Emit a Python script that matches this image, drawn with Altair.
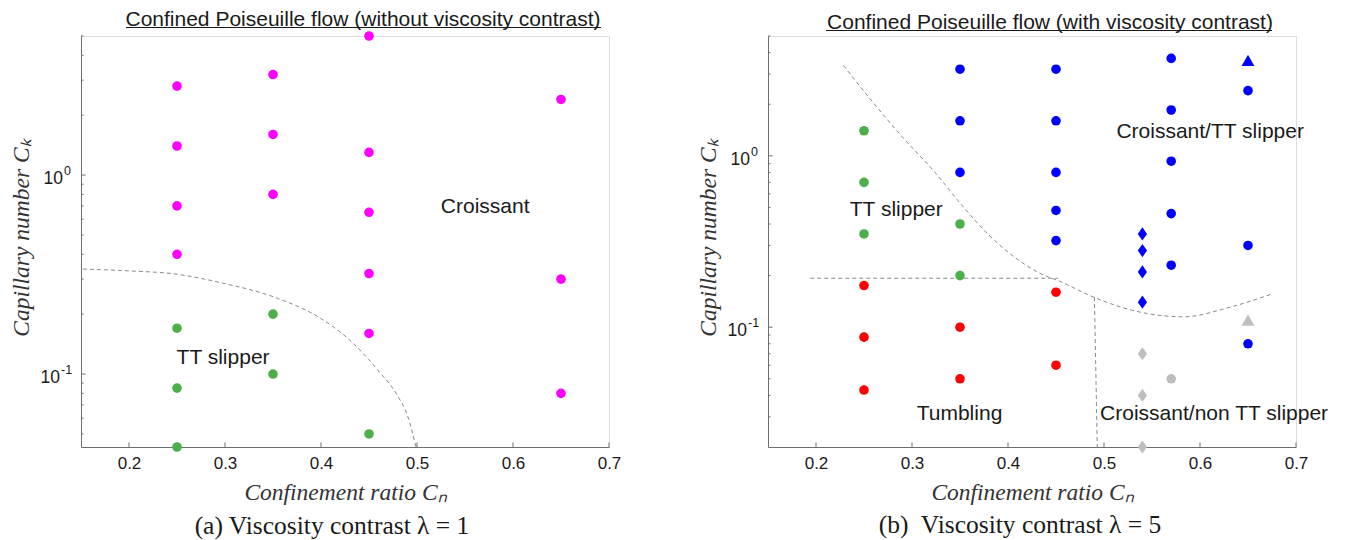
import altair as alt
import pandas as pd

# ---------------- Left panel: viscosity contrast lambda = 1 ----------------
L_CROISSANT_CN = [0.25, 0.25, 0.25, 0.25, 0.35, 0.35, 0.35, 0.45, 0.45, 0.45, 0.45, 0.45, 0.65, 0.65, 0.65]
L_CROISSANT_CK = [2.8, 1.4, 0.7, 0.4, 3.2, 1.6, 0.8, 5.0, 1.3, 0.65, 0.32, 0.16, 2.4, 0.3, 0.08]
L_TT_CN = [0.25, 0.25, 0.25, 0.35, 0.35, 0.45]
L_TT_CK = [0.17, 0.085, 0.043, 0.2, 0.1, 0.05]
L_BOUND_CN = [0.152, 0.20, 0.249, 0.294, 0.356, 0.397, 0.430, 0.459, 0.480, 0.490, 0.499]
L_BOUND_CK = [0.337, 0.330, 0.318, 0.289, 0.239, 0.194, 0.148, 0.105, 0.0774, 0.062, 0.043]
L_LABELS = ["Croissant", "TT slipper"]
L_LABEL_CN = [0.571, 0.298]
L_LABEL_CK = [0.695, 0.121]
L_YDOMAIN = [0.043, 5.0]
L_YMINOR = [0.05, 0.06, 0.07, 0.08, 0.09, 0.2, 0.3, 0.4, 0.5, 0.6, 0.7, 0.8, 0.9, 2, 3, 4, 5]

# ---------------- Right panel: viscosity contrast lambda = 5 ----------------
R_TT_CN = [0.25, 0.25, 0.25, 0.35, 0.35]
R_TT_CK = [1.4, 0.7, 0.35, 0.4, 0.2]
R_TUMB_CN = [0.25, 0.25, 0.25, 0.35, 0.35, 0.45, 0.45]
R_TUMB_CK = [0.175, 0.0875, 0.043, 0.1, 0.05, 0.16, 0.06]
R_CTT_CIRC_CN = [0.35, 0.35, 0.35, 0.45, 0.45, 0.45, 0.45, 0.45, 0.57, 0.57, 0.57, 0.57, 0.57, 0.65, 0.65, 0.65]
R_CTT_CIRC_CK = [3.2, 1.6, 0.8, 3.2, 1.6, 0.8, 0.48, 0.32, 3.7, 1.85, 0.93, 0.46, 0.23, 2.4, 0.3, 0.08]
R_CTT_DIAM_CN = [0.54, 0.54, 0.54, 0.54]
R_CTT_DIAM_CK = [0.35, 0.28, 0.21, 0.14]
R_CTT_TRI_CN = [0.65]
R_CTT_TRI_CK = [3.6]
R_NON_DIAM_CN = [0.54, 0.54, 0.54]
R_NON_DIAM_CK = [0.07, 0.04, 0.02]
R_NON_CIRC_CN = [0.57]
R_NON_CIRC_CK = [0.05]
R_NON_TRI_CN = [0.65]
R_NON_TRI_CK = [0.11]
R_BOUND_CN = [0.2285, 0.2546, 0.2893, 0.324, 0.3518, 0.3796, 0.4073, 0.4351, 0.4542, 0.4888, 0.5333, 0.5825, 0.6316, 0.676]
R_BOUND_CK = [3.37, 2.21, 1.30, 0.80, 0.516, 0.347, 0.255, 0.204, 0.185, 0.150, 0.124, 0.115, 0.131, 0.157]
R_HLINE_CN = [0.194, 0.452]
R_HLINE_CK = [0.193, 0.193]
R_VLINE_CN = [0.490, 0.493]
R_VLINE_CK = [0.150, 0.02]
R_LABELS = ["TT slipper", "Croissant/TT slipper", "Tumbling", "Croissant/non TT slipper"]
R_LABEL_CN = [0.2836, 0.6106, 0.3495, 0.6147]
R_LABEL_CK = [0.483, 1.374, 0.0313, 0.0313]
R_YDOMAIN = [0.02, 5.0]
R_YMINOR = [0.03, 0.04, 0.05, 0.06, 0.07, 0.08, 0.09, 0.2, 0.3, 0.4, 0.5, 0.6, 0.7, 0.8, 0.9, 2, 3, 4, 5]

X_TICKS = [0.2, 0.3, 0.4, 0.5, 0.6, 0.7]
Y_MAJOR = [1.0, 0.1]
Y_MAJOR_BASE = ["10", "10"]
Y_MAJOR_EXP = ["0", "-1"]

TITLES = ["Confined Poiseuille flow (without viscosity contrast)",
          "Confined Poiseuille flow (with viscosity contrast)"]
CAPTIONS = ["(a) Viscosity contrast \u03bb = 1", "(b)\u00a0 Viscosity contrast \u03bb = 5"]

GREEN = "#4DAF4A"
MAGENTA = "#FF00FF"
RED = "#FF0000"
BLUE = "#0000FF"
GRAY = "#BEBEBE"
AXC = "#6e6e6e"
TXT = "#1a1a1a"
DASH = "#8a8a8a"

W, H = 528, 411
SANS = "Liberation Sans"
SERIF = "Liberation Serif"

CIRCLE = "circle"
DIAMOND = "M0,-1L0.7,0L0,1L-0.7,0Z"
TRIANGLE = "M0,-0.88L1,0.88L-1,0.88Z"

# right edge of the "10" part of each y label (pixels left of the axis)
LABEL_BASE_RIGHT = [-18, -21]


def make_panel(series, lines, lab_txt, lab_cn, lab_ck, ydomain, yminor,
               title, title_y, ul_x, ul_y, caption, cap_x, cap_y):
    xs = alt.Scale(domain=[0.15, 0.7], nice=False, zero=False)
    ys = alt.Scale(type="log", domain=ydomain, nice=False)
    xaxis = alt.Axis(values=X_TICKS, format=".1f", ticks=False, grid=False,
                     domainColor=AXC, domainWidth=1, labelFlush=False,
                     labelFont=SANS, labelFontSize=17, labelColor=TXT, labelPadding=8,
                     title="Confinement ratio C\u2099", titleFont=SERIF,
                     titleFontStyle="italic", titleFontWeight="normal",
                     titleFontSize=23.5, titleColor="#333333",
                     titleY=45, titleBaseline="middle")
    yaxis = alt.Axis(values=Y_MAJOR, ticks=False, grid=False, labels=False,
                     domainColor=AXC, domainWidth=1,
                     title="Capillary number C\u2096", titleFont=SERIF,
                     titleFontStyle="italic", titleFontWeight="normal",
                     titleFontSize=23.5, titleColor="#333333",
                     titleX=-60, titleY=H / 2 - 4, titleAngle=270,
                     titleBaseline="middle", titleAlign="center")
    X = alt.X("cn:Q", scale=xs, axis=xaxis)
    Y = alt.Y("ck:Q", scale=ys, axis=yaxis)

    layers = []
    for cn, ck in lines:
        df = pd.DataFrame({"cn": cn, "ck": ck})
        layers.append(alt.Chart(df).mark_line(color=DASH, strokeDash=[4, 3],
                                              strokeWidth=1, interpolate="monotone")
                      .encode(x=X, y=Y))
    for cn, ck, color, shape, size in series:
        df = pd.DataFrame({"cn": cn, "ck": ck})
        layers.append(alt.Chart(df).mark_point(filled=True, shape=shape, size=size,
                                               color=color, opacity=1, strokeWidth=0)
                      .encode(x=X, y=Y))
    # inward ticks
    layers.append(alt.Chart(pd.DataFrame({"cn": X_TICKS})).mark_rule(color=AXC, strokeWidth=1)
                  .encode(x=X, y=alt.value(H), y2=alt.value(H - 4.5)))
    layers.append(alt.Chart(pd.DataFrame({"ck": Y_MAJOR})).mark_rule(color=AXC, strokeWidth=1)
                  .encode(y=Y, x=alt.value(0), x2=alt.value(4.5)))
    layers.append(alt.Chart(pd.DataFrame({"ck": yminor})).mark_rule(color=AXC, strokeWidth=1)
                  .encode(y=Y, x=alt.value(0), x2=alt.value(2.5)))
    # y tick labels with real superscripts
    for v, base, exp, right in zip(Y_MAJOR, Y_MAJOR_BASE, Y_MAJOR_EXP, LABEL_BASE_RIGHT):
        df = pd.DataFrame({"ck": [v], "base": [base], "exp": [exp]})
        layers.append(alt.Chart(df).mark_text(font=SANS, fontSize=17.5, color=TXT,
                                              align="right", baseline="middle", dy=4)
                      .encode(y=Y, x=alt.value(right), text="base:N"))
        layers.append(alt.Chart(df).mark_text(font=SANS, fontSize=12.5, color=TXT,
                                              align="left", baseline="middle", dy=-4)
                      .encode(y=Y, x=alt.value(right + 1), text="exp:N"))
    # region labels
    ldf = pd.DataFrame({"cn": lab_cn, "ck": lab_ck, "txt": lab_txt})
    layers.append(alt.Chart(ldf).mark_text(font=SANS, fontSize=21, color=TXT,
                                           align="center", baseline="middle")
                  .encode(x=X, y=Y, text="txt:N"))
    # underlined title
    layers.append(alt.Chart(pd.DataFrame({"txt": [title]})).mark_text(
        font=SANS, fontSize=21, color=TXT, align="center", baseline="middle")
        .encode(x=alt.value(282), y=alt.value(title_y), text="txt:N"))
    layers.append(alt.Chart(pd.DataFrame({"txt": [title]})).mark_rule(color=TXT, strokeWidth=1)
                  .encode(x=alt.value(ul_x[0]), x2=alt.value(ul_x[1]), y=alt.value(ul_y)))
    # caption
    layers.append(alt.Chart(pd.DataFrame({"txt": [caption]})).mark_text(
        font=SERIF, fontSize=25.5, color=TXT, align="center", baseline="middle")
        .encode(x=alt.value(cap_x), y=alt.value(cap_y), text="txt:N"))
    return alt.layer(*layers).properties(width=W, height=H)


left = make_panel(
    series=[
        (L_CROISSANT_CN, L_CROISSANT_CK, MAGENTA, CIRCLE, 92),
        (L_TT_CN, L_TT_CK, GREEN, CIRCLE, 92),
    ],
    lines=[(L_BOUND_CN, L_BOUND_CK)],
    lab_txt=L_LABELS, lab_cn=L_LABEL_CN, lab_ck=L_LABEL_CK,
    ydomain=L_YDOMAIN, yminor=L_YMINOR,
    title=TITLES[0], title_y=-16, ul_x=(45, 520), ul_y=-8.5,
    caption=CAPTIONS[0], cap_x=251, cap_y=490,
)

right = make_panel(
    series=[
        (R_TT_CN, R_TT_CK, GREEN, CIRCLE, 92),
        (R_TUMB_CN, R_TUMB_CK, RED, CIRCLE, 92),
        (R_CTT_CIRC_CN, R_CTT_CIRC_CK, BLUE, CIRCLE, 92),
        (R_CTT_DIAM_CN, R_CTT_DIAM_CK, BLUE, DIAMOND, 175),
        (R_CTT_TRI_CN, R_CTT_TRI_CK, BLUE, TRIANGLE, 165),
        (R_NON_DIAM_CN, R_NON_DIAM_CK, GRAY, DIAMOND, 175),
        (R_NON_CIRC_CN, R_NON_CIRC_CK, GRAY, CIRCLE, 92),
        (R_NON_TRI_CN, R_NON_TRI_CK, GRAY, TRIANGLE, 165),
    ],
    lines=[(R_BOUND_CN, R_BOUND_CK), (R_HLINE_CN, R_HLINE_CK), (R_VLINE_CN, R_VLINE_CK)],
    lab_txt=R_LABELS, lab_cn=R_LABEL_CN, lab_ck=R_LABEL_CK,
    ydomain=R_YDOMAIN, yminor=R_YMINOR,
    title=TITLES[1], title_y=-13, ul_x=(58, 504), ul_y=-5.5,
    caption=CAPTIONS[1], cap_x=252, cap_y=489,
)

chart = (alt.hconcat(left, right, spacing=159, bounds="flush")
         .properties(padding={"left": 0, "right": 0, "top": 0, "bottom": 0})
         .configure_view(stroke=None)
         .configure(background="white"))

chart.save("out.html", embed_options={"renderer": "svg", "actions": False})
